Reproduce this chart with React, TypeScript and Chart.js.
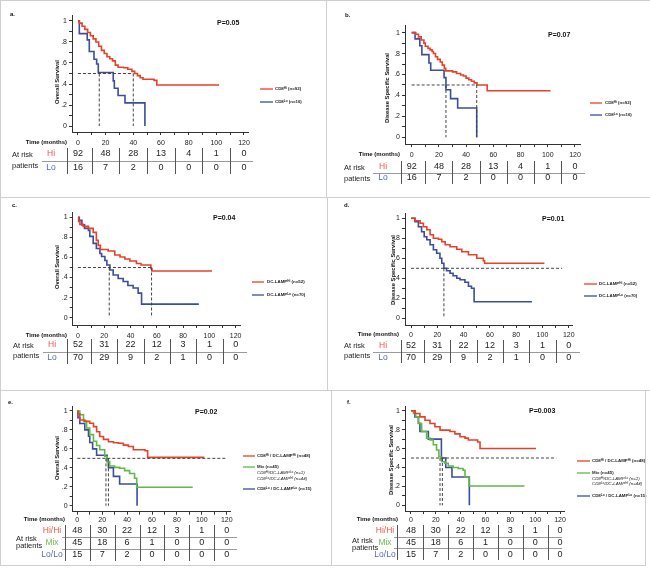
import React, { useEffect, useRef } from 'react';
import { Chart, registerables } from 'chart.js';
Chart.register(...registerables);

const FONT = '"Liberation Sans", Arial, Helvetica, sans-serif';
const RED = '#e6412b';
const BLUE = '#3b4d9d';
const GREEN = '#62b848';
const RED_T = '#f0584a';
const BLUE_T = '#5566b3';
const GREEN_T = '#6cc04f';

// ---------- data ----------
const xTickValues = [0, 10, 20, 30, 40, 50, 60, 70, 80, 90, 100, 110, 120];
const yTickValues = [0, 0.1, 0.2, 0.3, 0.4, 0.5, 0.6, 0.7, 0.8, 0.9, 1];
const tableColumns = [0, 20, 40, 60, 80, 100, 120];

// panel a (Overall survival, CD8)
const aHiT = [0, 1, 3, 5, 7, 9, 11, 13, 15, 17, 19, 21, 23, 25, 27, 29, 33, 36, 39, 41, 43, 45, 47, 55, 57, 102];
const aHiS = [1, 0.98, 0.95, 0.92, 0.89, 0.86, 0.83, 0.8, 0.76, 0.72, 0.69, 0.66, 0.64, 0.62, 0.58, 0.56, 0.555, 0.54, 0.52, 0.5, 0.48, 0.46, 0.445, 0.435, 0.39, 0.39];
const aLoT = [0, 1, 6.7, 8.2, 11.6, 13.5, 14.7, 25.5, 26.3, 29, 34, 48.4];
const aLoS = [1, 0.88, 0.82, 0.71, 0.635, 0.59, 0.51, 0.43, 0.36, 0.29, 0.22, 0];
const aMedians = [15.4, 40];
const aHorizEnd = 40;
const aRiskHi = [92, 48, 28, 13, 4, 1, 0];
const aRiskLo = [16, 7, 2, 0, 0, 0, 0];

// panel b (Disease specific survival, CD8)
const bHiT = [0, 3, 5, 7, 9, 10, 12, 13.5, 15, 16, 17.5, 19, 21, 22.5, 24, 25, 30, 33, 36, 38, 40, 42, 44, 46, 48, 55.5, 102];
const bHiS = [1, 0.985, 0.96, 0.93, 0.9, 0.87, 0.85, 0.835, 0.82, 0.8, 0.77, 0.745, 0.72, 0.69, 0.66, 0.635, 0.625, 0.61, 0.595, 0.585, 0.565, 0.55, 0.535, 0.52, 0.5, 0.445, 0.445];
const bLoT = [0, 2.5, 6, 7.5, 12.7, 14, 23.8, 25.2, 28.6, 33.8, 47.8];
const bLoS = [1, 0.94, 0.875, 0.79, 0.71, 0.64, 0.57, 0.455, 0.37, 0.28, 0];
const bMedians = [25.2, 47.8];
const bHorizEnd = 48;
const bRiskHi = [92, 48, 28, 13, 4, 1, 0];
const bRiskLo = [16, 7, 2, 0, 0, 0, 0];

// panel c (Overall survival, DC-LAMP)
const cHiT = [0, 0.5, 1.5, 4, 8, 11.6, 14, 15.4, 17, 23, 28, 32, 35.7, 39.5, 44.5, 48, 55.5, 56.3, 102];
const cHiS = [1, 0.96, 0.93, 0.91, 0.89, 0.85, 0.77, 0.72, 0.68, 0.665, 0.625, 0.605, 0.585, 0.565, 0.54, 0.525, 0.49, 0.465, 0.465];
const cLoT = [0, 1, 3, 5, 8, 9, 11.6, 14, 16.7, 18, 20.5, 22, 24.3, 26.8, 30.6, 34.4, 38, 42, 45.8, 48.4, 92];
const cLoS = [1, 0.97, 0.925, 0.89, 0.87, 0.81, 0.74, 0.69, 0.64, 0.61, 0.57, 0.525, 0.475, 0.425, 0.39, 0.36, 0.32, 0.295, 0.245, 0.135, 0.135];
const cMedians = [23.8, 56];
const cHorizEnd = 56;
const cRiskHi = [52, 31, 22, 12, 3, 1, 0];
const cRiskLo = [70, 29, 9, 2, 1, 0, 0];

// panel d (Disease specific survival, DC-LAMP)
const dHiT = [0, 3, 6.9, 9.4, 12, 14.5, 17, 20.8, 23.4, 26, 29.7, 34.8, 38.6, 43.7, 50, 55, 56, 101.5];
const dHiS = [1, 0.975, 0.95, 0.915, 0.885, 0.835, 0.8, 0.79, 0.765, 0.735, 0.715, 0.69, 0.665, 0.635, 0.6, 0.575, 0.55, 0.55];
const dLoT = [0, 3, 5.6, 8, 10, 12, 14.5, 17, 19.5, 22, 23.4, 25, 27, 29.7, 32, 34.8, 37.3, 41, 43.7, 46, 48, 92];
const dLoS = [1, 0.965, 0.915, 0.865, 0.815, 0.785, 0.735, 0.685, 0.65, 0.6, 0.55, 0.5, 0.475, 0.45, 0.425, 0.4, 0.385, 0.36, 0.32, 0.3, 0.165, 0.165];
const dMedians = [25];
const dHorizEnd = 115;
const dRiskHi = [52, 31, 22, 12, 3, 1, 0];
const dRiskLo = [70, 29, 9, 2, 1, 0, 0];

// panel e (Overall survival, combined)
const eHiT = [0, 0.5, 2, 6, 10, 13, 15.5, 18, 21, 25, 29, 33, 37, 41, 45, 54.4, 56.5, 102];
const eHiS = [1, 0.97, 0.905, 0.89, 0.87, 0.835, 0.78, 0.73, 0.7, 0.675, 0.665, 0.66, 0.64, 0.625, 0.59, 0.58, 0.51, 0.51];
const eMixT = [0, 2, 5, 7.5, 10, 13, 15.5, 18, 22, 24, 26, 30, 34, 38, 42, 46, 47.7, 92.7];
const eMixS = [1, 0.96, 0.89, 0.82, 0.75, 0.68, 0.635, 0.59, 0.52, 0.465, 0.42, 0.405, 0.395, 0.37, 0.34, 0.29, 0.195, 0.195];
const eLoT = [0, 0.5, 2, 6, 9, 10, 12.3, 15.5, 24, 25, 29, 34, 48];
const eLoS = [1, 0.93, 0.867, 0.8, 0.733, 0.667, 0.6, 0.533, 0.467, 0.4, 0.31, 0.23, 0];
const eMedians = [23, 25];
const eHorizEnd = 119.5;
const eRiskHi = [48, 30, 22, 12, 3, 1, 0];
const eRiskMix = [45, 18, 6, 1, 0, 0, 0];
const eRiskLo = [15, 7, 2, 0, 0, 0, 0];

// panel f (Disease specific survival, combined)
const fHiT = [0, 3.2, 7.2, 11.3, 15.3, 19.3, 23.4, 31.4, 35.4, 39.5, 43.5, 46.2, 53.7, 55.6, 100.7];
const fHiS = [1, 0.97, 0.935, 0.9, 0.865, 0.83, 0.795, 0.78, 0.755, 0.725, 0.71, 0.69, 0.67, 0.6, 0.6];
const fMixT = [0, 2, 3.8, 6, 8.6, 12.6, 15.3, 18, 20.6, 22.5, 24.7, 27.4, 30, 34, 38, 42, 43.5, 46.8, 91.4];
const fMixS = [1, 0.97, 0.935, 0.865, 0.78, 0.71, 0.69, 0.64, 0.585, 0.515, 0.46, 0.445, 0.415, 0.4, 0.39, 0.37, 0.3, 0.205, 0.205];
const fLoT = [0, 3.2, 6, 7.2, 14, 24.5, 28, 33, 47];
const fLoS = [1, 0.933, 0.867, 0.78, 0.7, 0.5, 0.4, 0.3, 0];
const fMedians = [23.4, 25.3];
const fHorizEnd = 117;
const fRiskHi = [48, 30, 22, 12, 3, 1, 0];
const fRiskMix = [45, 18, 6, 1, 0, 0, 0];
const fRiskLo = [15, 7, 2, 0, 0, 0, 0];

// ---------- panel layout (page pixels) ----------
type Curve = { t: number[]; s: number[]; color: string };
type Row = { label: string; color: string; values: number[]; y: number };
type Leg = { text: string; y: number; color?: string; italic?: boolean };

interface PanelCfg {
  letter: string; ox: number; oy: number; w: number; h: number;
  L: number; T: number; R: number; B: number;
  xMin: number; xMax: number; yMin: number; yMax: number; tickPad: number;
  curves: Curve[]; medians: number[]; horizEnd: number;
  rows: Row[]; hLines: number[]; lineX: [number, number]; sepMonths: number[]; sepY: [number, number];
  labelX: number; timeX: number; atRiskX: number; atRiskY: [number, number];
  pX: number; pY: number; pText: string; letterX: number; letterY: number;
  yTitle: string; yTitleX: number; yTitleY: number;
  legend: Leg[]; legLine: [number, number]; legTextX: number;
}

const OS = 'Overall Survival';
const DSS = 'Disease Specific Survival';
const sepStd = [10, 30, 50, 70, 90, 110];

const panels: PanelCfg[] = [
  {
    letter: 'a.', ox: 0, oy: 0, w: 325, h: 197, L: 72, T: 15, R: 248, B: 132,
    xMin: -4.3, xMax: 122.9, yMin: -0.057, yMax: 1.057, tickPad: 3.5,
    curves: [{ t: aHiT, s: aHiS, color: RED }, { t: aLoT, s: aLoS, color: BLUE }],
    medians: aMedians, horizEnd: aHorizEnd,
    rows: [{ label: 'Hi', color: RED_T, values: aRiskHi, y: 154 }, { label: 'Lo', color: BLUE_T, values: aRiskLo, y: 168 }],
    hLines: [161], lineX: [42, 253], sepMonths: [-8, ...sepStd], sepY: [148, 174],
    labelX: 51, timeX: 67, atRiskX: 12, atRiskY: [155, 166],
    pX: 217, pY: 23, pText: 'P=0.05', letterX: 10, letterY: 14,
    yTitle: OS, yTitleX: 57, yTitleY: 82,
    legend: [{ text: 'CD8^{Hi} (n=92)', y: 89, color: RED }, { text: 'CD8^{Lo} (n=16)', y: 102, color: BLUE }],
    legLine: [260, 273], legTextX: 275,
  },
  {
    letter: 'b.', ox: 325, oy: 0, w: 325, h: 197, L: 405, T: 25, R: 580, B: 144,
    xMin: -4.9, xMax: 123.7, yMin: -0.064, yMax: 1.073, tickPad: 3.5,
    curves: [{ t: bHiT, s: bHiS, color: RED }, { t: bLoT, s: bLoS, color: BLUE }],
    medians: bMedians, horizEnd: bHorizEnd,
    rows: [{ label: 'Hi', color: RED_T, values: bRiskHi, y: 167 }, { label: 'Lo', color: BLUE_T, values: bRiskLo, y: 178 }],
    hLines: [173], lineX: [373, 585], sepMonths: [-8, ...sepStd], sepY: [161, 184],
    labelX: 383, timeX: 400, atRiskX: 344, atRiskY: [168, 179],
    pX: 548, pY: 35, pText: 'P=0.07', letterX: 345, letterY: 15,
    yTitle: DSS, yTitleX: 387, yTitleY: 88,
    legend: [{ text: 'CD8^{Hi} (n=92)', y: 103, color: RED }, { text: 'CD8^{Lo} (n=16)', y: 115, color: BLUE }],
    legLine: [590, 602], legTextX: 605,
  },
  {
    letter: 'c.', ox: 0, oy: 197, w: 325, h: 193, L: 72.7, T: 212.7, R: 240, B: 325,
    xMin: -4, xMax: 123.3, yMin: -0.073, yMax: 1.046, tickPad: 3.5,
    curves: [{ t: cHiT, s: cHiS, color: RED }, { t: cLoT, s: cLoS, color: BLUE }],
    medians: cMedians, horizEnd: cHorizEnd,
    rows: [{ label: 'Hi', color: RED_T, values: cRiskHi, y: 345 }, { label: 'Lo', color: BLUE_T, values: cRiskLo, y: 358 }],
    hLines: [352], lineX: [43, 247], sepMonths: [-8, ...sepStd], sepY: [339, 364],
    labelX: 52, timeX: 67, atRiskX: 13, atRiskY: [346, 356],
    pX: 213, pY: 218, pText: 'P=0.04', letterX: 12, letterY: 205,
    yTitle: OS, yTitleX: 57, yTitleY: 267,
    legend: [{ text: 'DC-LAMP^{Hi} (n=52)', y: 282, color: RED }, { text: 'DC-LAMP^{Lo} (n=70)', y: 295, color: BLUE }],
    legLine: [252, 264], legTextX: 267,
  },
  {
    letter: 'd.', ox: 325, oy: 197, w: 325, h: 193, L: 405, T: 213.3, R: 572, B: 325,
    xMin: -4.6, xMax: 122.5, yMin: -0.067, yMax: 1.05, tickPad: 2.5,
    curves: [{ t: dHiT, s: dHiS, color: RED }, { t: dLoT, s: dLoS, color: BLUE }],
    medians: dMedians, horizEnd: dHorizEnd,
    rows: [{ label: 'Hi', color: RED_T, values: dRiskHi, y: 346 }, { label: 'Lo', color: BLUE_T, values: dRiskLo, y: 357.7 }],
    hLines: [352], lineX: [373, 580], sepMonths: [-8, ...sepStd], sepY: [340, 363],
    labelX: 383, timeX: 399, atRiskX: 344, atRiskY: [346, 356],
    pX: 542, pY: 219, pText: 'P=0.01', letterX: 344, letterY: 205,
    yTitle: DSS, yTitleX: 393, yTitleY: 270,
    legend: [{ text: 'DC-LAMP^{Hi} (n=52)', y: 284, color: RED }, { text: 'DC-LAMP^{Lo} (n=70)', y: 296, color: BLUE }],
    legLine: [584, 597], legTextX: 599,
  },
  {
    letter: 'e.', ox: 0, oy: 390, w: 325, h: 179, L: 72.7, T: 406.7, R: 230.7, B: 511.7,
    xMin: -3.7, xMax: 123.2, yMin: -0.063, yMax: 1.045, tickPad: 1,
    curves: [{ t: eHiT, s: eHiS, color: RED }, { t: eMixT, s: eMixS, color: GREEN }, { t: eLoT, s: eLoS, color: BLUE }],
    medians: eMedians, horizEnd: eHorizEnd,
    rows: [
      { label: 'Hi/Hi', color: RED_T, values: eRiskHi, y: 531 },
      { label: 'Mix', color: GREEN_T, values: eRiskMix, y: 543 },
      { label: 'Lo/Lo', color: BLUE_T, values: eRiskLo, y: 555 },
    ],
    hLines: [536.7, 549.3], lineX: [62, 237], sepMonths: [-10, ...sepStd], sepY: [525, 561],
    labelX: 52, timeX: 65, atRiskX: 16, atRiskY: [539, 546],
    pX: 195, pY: 412, pText: 'P=0.02', letterX: 8, letterY: 402,
    yTitle: OS, yTitleX: 57, yTitleY: 458,
    legend: [
      { text: 'CD8^{Hi} / DC-LAMP^{Hi} (n=48)', y: 456, color: RED },
      { text: 'Mix (n=45)', y: 467, color: GREEN },
      { text: 'CD8^{Hi}/DC-LAMP^{Lo} (n=1)', y: 473, italic: true },
      { text: 'CD8^{Lo}/DC-LAMP^{Hi} (n=44)', y: 479, italic: true },
      { text: 'CD8^{Lo} / DC-LAMP^{Lo} (n=15)', y: 489, color: BLUE },
    ],
    legLine: [243, 255], legTextX: 257,
  },
  {
    letter: 'f.', ox: 325, oy: 390, w: 325, h: 179, L: 405, T: 406, R: 564, B: 511,
    xMin: -4.8, xMax: 123.2, yMin: -0.06, yMax: 1.05, tickPad: 1.5,
    curves: [{ t: fHiT, s: fHiS, color: RED }, { t: fMixT, s: fMixS, color: GREEN }, { t: fLoT, s: fLoS, color: BLUE }],
    medians: fMedians, horizEnd: fHorizEnd,
    rows: [
      { label: 'Hi/Hi', color: RED_T, values: fRiskHi, y: 530.7 },
      { label: 'Mix', color: GREEN_T, values: fRiskMix, y: 542.7 },
      { label: 'Lo/Lo', color: BLUE_T, values: fRiskLo, y: 554.3 },
    ],
    hLines: [536.7, 548.3], lineX: [394, 562], sepMonths: [-11, ...sepStd], sepY: [525, 560],
    labelX: 385, timeX: 398, atRiskX: 352, atRiskY: [541, 548],
    pX: 529, pY: 411, pText: 'P=0.003', letterX: 347, letterY: 402,
    yTitle: DSS, yTitleX: 391, yTitleY: 460,
    legend: [
      { text: 'CD8^{Hi} / DC-LAMP^{Hi} (n=48)', y: 461, color: RED },
      { text: 'Mix (n=45)', y: 473, color: GREEN },
      { text: 'CD8^{Hi}/DC-LAMP^{Lo} (n=1)', y: 479, italic: true },
      { text: 'CD8^{Lo}/DC-LAMP^{Hi} (n=44)', y: 484, italic: true },
      { text: 'CD8^{Lo} / DC-LAMP^{Lo} (n=15)', y: 496, color: BLUE },
    ],
    legLine: [577, 590], legTextX: 592,
  },
];

function font(size: number, bold = false, italic = false) {
  return `${italic ? 'italic ' : ''}${bold ? 'bold ' : ''}${size}px ${FONT}`;
}

function drawRich(ctx: CanvasRenderingContext2D, str: string, x: number, y: number, size: number, bold: boolean, italic: boolean, color: string) {
  const re = /\^\{([^}]*)\}/g;
  const parts: { t: string; sup: boolean }[] = [];
  let last = 0;
  let m: RegExpExecArray | null;
  while ((m = re.exec(str))) {
    if (m.index > last) parts.push({ t: str.slice(last, m.index), sup: false });
    parts.push({ t: m[1], sup: true });
    last = m.index + m[0].length;
  }
  if (last < str.length) parts.push({ t: str.slice(last), sup: false });
  let cx = x;
  ctx.fillStyle = color;
  ctx.textAlign = 'left';
  ctx.textBaseline = 'middle';
  for (const p of parts) {
    const sz = p.sup ? size * 0.7 : size;
    ctx.font = font(sz, bold, italic);
    ctx.fillText(p.t, cx, p.sup ? y - size * 0.3 : y);
    cx += ctx.measureText(p.t).width;
  }
}

function makeDecor(p: PanelCfg) {
  return {
    id: 'decor' + p.letter,
    afterDraw(chart: any) {
      const ctx: CanvasRenderingContext2D = chart.ctx;
      const xs = chart.scales.x;
      const X = (v: number) => v - p.ox;
      const Y = (v: number) => v - p.oy;
      ctx.save();
      const text = (s: string, x: number, y: number, size: number, opts: any = {}) => {
        ctx.font = font(size, !!opts.bold, !!opts.italic);
        ctx.fillStyle = opts.color || '#111';
        ctx.textAlign = opts.align || 'left';
        ctx.textBaseline = 'middle';
        ctx.fillText(s, x, y);
      };
      // panel letter and p-value
      text(p.letter, X(p.letterX), Y(p.letterY), 6, { bold: true });
      text(p.pText, X(p.pX), Y(p.pY), 7, { bold: true });
      // y title
      ctx.save();
      ctx.translate(X(p.yTitleX), Y(p.yTitleY));
      ctx.rotate(-Math.PI / 2);
      text(p.yTitle, 0, 0, 5.8, { bold: true, align: 'center' });
      ctx.restore();
      // legend
      for (const lg of p.legend) {
        if (lg.color) {
          ctx.strokeStyle = lg.color;
          ctx.lineWidth = 1.3;
          ctx.beginPath();
          ctx.moveTo(X(p.legLine[0]), Y(lg.y));
          ctx.lineTo(X(p.legLine[1]), Y(lg.y));
          ctx.stroke();
        }
        drawRich(ctx, lg.text, X(p.legTextX), Y(lg.y), 4.4, !lg.italic, !!lg.italic, '#222');
      }
      // table
      const tickY = p.B + 3 + p.tickPad + 3.5;
      text('Time (months)', X(p.timeX), Y(tickY), 6, { bold: true, align: 'right' });
      text('At risk', X(p.atRiskX), Y(p.atRiskY[0]), 7.5, { color: '#222' });
      text('patients', X(p.atRiskX), Y(p.atRiskY[1]), 7.5, { color: '#222' });
      ctx.strokeStyle = '#9a9a9a';
      ctx.lineWidth = 1;
      for (const hy of p.hLines) {
        ctx.beginPath();
        ctx.moveTo(X(p.lineX[0]), Math.round(Y(hy)) + 0.5);
        ctx.lineTo(X(p.lineX[1]), Math.round(Y(hy)) + 0.5);
        ctx.stroke();
      }
      ctx.strokeStyle = '#555';
      for (const sm of p.sepMonths) {
        const sx = Math.round(xs.getPixelForValue(sm)) + 0.5;
        ctx.beginPath();
        ctx.moveTo(sx, Y(p.sepY[0]));
        ctx.lineTo(sx, Y(p.sepY[1]));
        ctx.stroke();
      }
      for (const r of p.rows) {
        text(r.label, X(p.labelX), Y(r.y), 8.5, { color: r.color, align: 'center' });
        r.values.forEach((v, i) => {
          text(String(v), xs.getPixelForValue(tableColumns[i]), Y(r.y), 9, { color: '#222', align: 'center' });
        });
      }
      ctx.restore();
    },
  };
}

function buildChart(canvas: HTMLCanvasElement, p: PanelCfg) {
  const datasets: any[] = [];
  for (const m of p.medians) {
    datasets.push({
      data: [{ x: m, y: 0.5 }, { x: m, y: 0 }],
      borderColor: '#444', borderWidth: 1, borderDash: [3, 2], pointRadius: 0, fill: false,
    });
  }
  datasets.push({
    data: [{ x: 0, y: 0.5 }, { x: p.horizEnd, y: 0.5 }],
    borderColor: '#444', borderWidth: 1, borderDash: [3, 2], pointRadius: 0, fill: false,
  });
  for (const c of p.curves) {
    datasets.push({
      data: c.t.map((t, i) => ({ x: t, y: c.s[i] })),
      borderColor: c.color, borderWidth: 1.6, stepped: true, pointRadius: 0, fill: false,
    });
  }
  const axisCommon = {
    grid: { display: true, drawOnChartArea: false, drawTicks: true, tickLength: 3, color: '#333' },
    border: { display: true, color: '#333', width: 1 },
  };
  return new Chart(canvas, {
    type: 'line',
    data: { datasets },
    options: {
      animation: false,
      responsive: false,
      maintainAspectRatio: false,
      devicePixelRatio: 1,
      layout: { padding: { left: 0, top: p.T - p.oy, right: p.ox + p.w - p.R, bottom: 0 } },
      plugins: { legend: { display: false }, tooltip: { enabled: false }, title: { display: false } },
      scales: {
        x: {
          type: 'linear', min: p.xMin, max: p.xMax,
          afterBuildTicks: (s: any) => { s.ticks = xTickValues.map((v) => ({ value: v })); },
          afterFit: (s: any) => { s.height = p.oy + p.h - p.B; },
          ticks: {
            callback: (v: any) => (Number(v) % 20 === 0 ? String(v) : ''),
            font: { family: FONT, size: 7 }, color: '#222', padding: p.tickPad, maxRotation: 0, autoSkip: false,
          },
          ...axisCommon,
        },
        y: {
          type: 'linear', min: p.yMin, max: p.yMax,
          afterBuildTicks: (s: any) => { s.ticks = yTickValues.map((v) => ({ value: v })); },
          afterFit: (s: any) => { s.width = p.L - p.ox; },
          ticks: {
            callback: (v: any) => {
              const k = Math.round(Number(v) * 10);
              if (k % 2 !== 0) return '';
              if (k === 0) return '0';
              if (k === 10) return '1';
              return '.' + k;
            },
            font: { family: FONT, size: 7 }, color: '#222', padding: 2, autoSkip: false,
          },
          ...axisCommon,
        },
      },
    },
    plugins: [makeDecor(p)],
  } as any);
}

const frameLines = [
  { l: 0, t: 0, w: 650, h: 1 },
  { l: 0, t: 0, w: 1, h: 566 },
  { l: 0, t: 197, w: 650, h: 1 },
  { l: 0, t: 390, w: 650, h: 1 },
  { l: 0, t: 565, w: 646, h: 1 },
  { l: 326, t: 0, w: 1, h: 197 },
  { l: 327, t: 197, w: 1, h: 193 },
  { l: 331, t: 390, w: 1, h: 176 },
  { l: 645, t: 390, w: 1, h: 176 },
];

export default function App() {
  const refs = useRef<(HTMLCanvasElement | null)[]>([]);
  useEffect(() => {
    const charts = panels.map((p, i) => buildChart(refs.current[i] as HTMLCanvasElement, p));
    return () => charts.forEach((c) => c.destroy());
  }, []);
  return (
    <div style={{ position: 'absolute', left: 0, top: 0, width: 650, height: 569, background: '#fff', overflow: 'hidden' }}>
      {panels.map((p, i) => (
        <canvas
          key={p.letter}
          ref={(el) => { refs.current[i] = el; }}
          width={p.w}
          height={p.h}
          style={{ position: 'absolute', left: p.ox, top: p.oy, width: p.w, height: p.h }}
        />
      ))}
      {frameLines.map((f, i) => (
        <div key={i} style={{ position: 'absolute', left: f.l, top: f.t, width: f.w, height: f.h, background: '#cfcfcf' }} />
      ))}
    </div>
  );
}
